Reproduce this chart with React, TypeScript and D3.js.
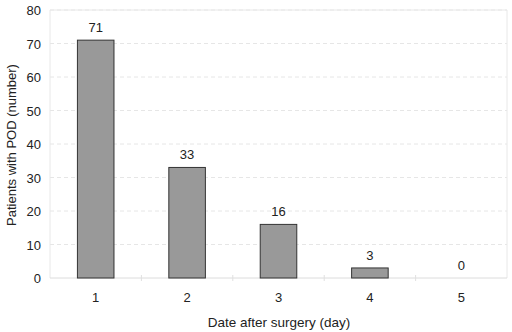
import React from "react";
import * as d3 from "d3";

const categories = ["1", "2", "3", "4", "5"];
const values = [71, 33, 16, 3, 0];
const yTicks = [0, 10, 20, 30, 40, 50, 60, 70, 80];

export default function App() {
  const W = 512, H = 332;
  const m = { left: 50, right: 5, top: 10, bottom: 54 };
  const x = d3.scaleBand().domain(categories).range([m.left, W - m.right]).paddingInner(0.6).paddingOuter(0.3);
  const xb = d3.scaleBand().domain(categories).range([m.left, W - m.right]);
  const y = d3.scaleLinear().domain([0, 80]).range([H - m.bottom, m.top]);
  const font = "Liberation Sans, Arial, sans-serif";
  return (
    <svg width={W} height={H} style={{ position: "absolute", left: 0, top: 0 }} fontFamily={font}>
      <rect x={0} y={0} width={W} height={H} fill="#fff" />
      {yTicks.filter(t => t > 0).map(t => (
        <line key={t} x1={m.left} x2={W - m.right} y1={y(t)} y2={y(t)} stroke="#e6e6e6" strokeDasharray="4,3" />
      ))}
      <line x1={m.left} x2={m.left} y1={m.top} y2={y(0)} stroke="#e8e8e8" />
      <line x1={W - m.right} x2={W - m.right} y1={m.top} y2={y(0)} stroke="#e8e8e8" />
      <line x1={m.left} x2={W - m.right} y1={m.top} y2={m.top} stroke="#e8e8e8" />
      <line x1={m.left} x2={W - m.right} y1={y(0)} y2={y(0)} stroke="#dcdcdc" />
      {categories.slice(1).map(c => (
        <line key={c} x1={xb(c)!} x2={xb(c)!} y1={y(0) - 3} y2={y(0) + 3} stroke="#e0e0e0" />
      ))}
      {categories.map((c, i) => (
        <g key={c}>
          {values[i] > 0 && (
            <rect x={x(c)!} y={y(values[i])} width={x.bandwidth()} height={y(0) - y(values[i])} fill="#999999" stroke="#333" strokeWidth={1} />
          )}
          <text x={x(c)! + x.bandwidth() / 2} y={y(values[i]) - 8} textAnchor="middle" fontSize={13} fill="#222">{values[i]}</text>
          <text x={x(c)! + x.bandwidth() / 2} y={y(0) + 24} textAnchor="middle" fontSize={13} fill="#222">{c}</text>
        </g>
      ))}
      {yTicks.map(t => (
        <text key={t} x={m.left - 9} y={y(t) + 5} textAnchor="end" fontSize={13} fill="#222">{t}</text>
      ))}
      <text x={279} y={327} textAnchor="middle" fontSize={13.5} fill="#222">Date after surgery (day)</text>
      <text transform={`translate(16,${(m.top + y(0)) / 2 + 1}) rotate(-90)`} textAnchor="middle" fontSize={13} fill="#222">Patients with POD (number)</text>
    </svg>
  );
}
